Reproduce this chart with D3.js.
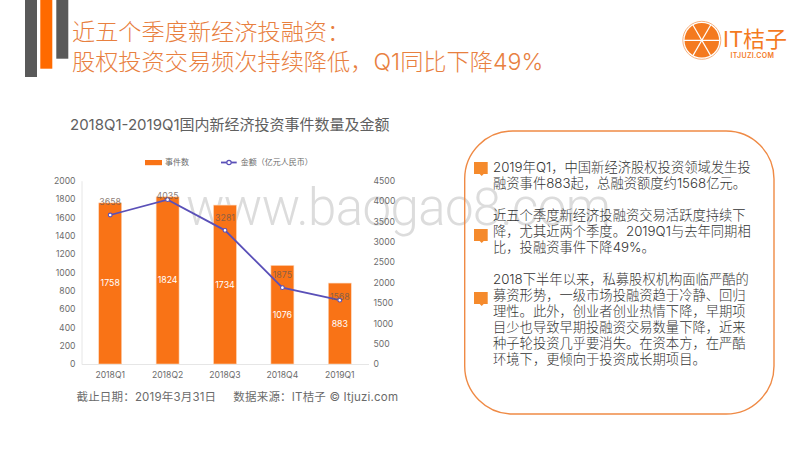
<!DOCTYPE html>
<html><head><meta charset="utf-8">
<script src="https://cdn.jsdelivr.net/npm/d3@7"></script>
<style>html,body{margin:0;padding:0;background:#fff}svg{display:block}</style></head><body>
<svg id="c" width="800" height="450" font-family="Inter,'Noto Sans CJK SC',sans-serif"></svg>
<script>
const categories=["2018Q1","2018Q2","2018Q3","2018Q4","2019Q1"];
const eventCounts=[1758,1824,1734,1076,883];
const amounts=[3658,4035,3281,1875,1568];
const leftTicks=[0,200,400,600,800,1000,1200,1400,1600,1800,2000];
const rightTicks=[0,500,1000,1500,2000,2500,3000,3500,4000,4500];
const closeLabels=["2018Q2","2019Q1"];
const titleLines=["近五个季度新经济投融资：","股权投资交易频次持续降低，Q1同比下降49%"];
const chartTitle="2018Q1-2019Q1国内新经济投资事件数量及金额";
const legendLabels=["事件数","金额（亿元人民币）"];
const footnote="截止日期：2019年3月31日     数据来源：IT桔子 © Itjuzi.com";
const paragraphs=[
 ["2019年Q1，中国新经济股权投资领域发生投","融资事件883起，总融资额度约1568亿元。"],
 ["近五个季度新经济投融资交易活跃度持续下","降，尤其近两个季度。2019Q1与去年同期相","比，投融资事件下降49%。"],
 ["2018下半年以来，私募股权机构面临严酷的","募资形势，一级市场投融资趋于冷静、回归","理性。此外，创业者创业热情下降，早期项","目少也导致早期投融资交易数量下降，近来","种子轮投资几乎要消失。在资本方，在严酷","环境下，更倾向于投资成长期项目。"]];
const ORANGE="#f97316",TXT="#6b6b6b",LINE="#5a50b8";
const svg=d3.select("#c");
// watermark under everything
svg.append("text").attr("x",186).attr("y",225).attr("font-size",51).attr("fill","#dcdcdc").attr("font-family","Roboto").attr("font-weight",300).attr("textLength",425).attr("lengthAdjust","spacing").text("www.baogao8.com");
// decoration bars
[[25,0,12,77,"#595959"],[40.3,0,12,68.7,"#ff6a00"],[56.3,0,12,58.7,"#595959"]].forEach(d=>
 svg.append("rect").attr("x",d[0]).attr("y",d[1]).attr("width",d[2]).attr("height",d[3]).attr("fill",d[4]));
// title
titleLines.forEach((t,i)=>svg.append("text").attr("x",72).attr("y",[40,70][i]).attr("font-size",23.2).attr("font-weight",300).attr("fill","#e8803f").text(t));
// logo
const lg=svg.append("g").attr("transform","translate(701.8,40.3)");
lg.append("circle").attr("r",19).attr("fill","#fff").attr("stroke","#f7b27f").attr("stroke-width",1);
lg.append("circle").attr("r",17.3).attr("fill","#f47a1f");
[0,60,120].forEach(deg=>{const a=deg*Math.PI/180;
 lg.append("line").attr("x1",-18*Math.cos(a)).attr("y1",-18*Math.sin(a)).attr("x2",18*Math.cos(a)).attr("y2",18*Math.sin(a)).attr("stroke","#fff").attr("stroke-width",1.2);});
svg.append("text").attr("x",723).attr("y",47).attr("font-size",22).attr("fill","#f47a1f").text("IT桔子");
svg.append("text").attr("x",730.5).attr("y",57.5).attr("font-size",7).attr("fill","#f47a1f").attr("font-weight",600).attr("textLength",43.5).text("ITJUZI.COM");
// chart title
svg.append("text").attr("x",70).attr("y",130).attr("font-size",15).attr("fill","#606060").text(chartTitle);
// scales
const x=d3.scaleBand().domain(categories).range([81.5,368.5]).paddingInner(0.6).paddingOuter(0.3);
const yL=d3.scaleLinear().domain([0,2000]).range([364,180.7]);
const yR=d3.scaleLinear().domain([0,4500]).range([364,180.7]);
// axes
const axL=svg.append("g").attr("transform","translate(81.5,0)").call(d3.axisLeft(yL).tickValues(leftTicks).tickFormat(d3.format("d")).tickSize(0).tickPadding(6));
const axR=svg.append("g").attr("transform","translate(368.5,0)").call(d3.axisRight(yR).tickValues(rightTicks).tickFormat(d3.format("d")).tickSize(0).tickPadding(5));
const axB=svg.append("g").attr("transform","translate(0,364)").call(d3.axisBottom(x).tickSize(0).tickPadding(8));
[axL,axB].forEach(a=>a.select(".domain").attr("stroke","#e6e6e6"));
axR.select(".domain").remove();
[axL,axR,axB].forEach(a=>a.attr("font-family",null).selectAll("text").attr("font-size",8.6).attr("fill",TXT));
// bars
svg.selectAll(".bar").data(eventCounts).enter().append("rect").attr("x",(d,i)=>x(categories[i])).attr("y",d=>yL(d)).attr("width",x.bandwidth()).attr("height",d=>yL(0)-yL(d)).attr("fill",ORANGE).attr("stroke","#fcd9bd").attr("stroke-width",.6);
// bar labels
svg.selectAll(".bl").data(eventCounts).enter().append("text").attr("x",(d,i)=>x(categories[i])+x.bandwidth()/2).attr("y",d=>(yL(d)+yL(0))/2+3).attr("text-anchor","middle").attr("font-size",8.8).attr("fill","#fff").text(d=>d);
// line
const cx=i=>x(categories[i])+x.bandwidth()/2;
const line=d3.line().x((d,i)=>cx(i)).y(d=>yR(d));
svg.append("path").datum(amounts).attr("d",line).attr("fill","none").attr("stroke",LINE).attr("stroke-width",1.8);
svg.selectAll(".pt").data(amounts).enter().append("circle").attr("cx",(d,i)=>cx(i)).attr("cy",d=>yR(d)).attr("r",1.9).attr("fill","#fff").attr("stroke",LINE).attr("stroke-width",1.1);
svg.selectAll(".al").data(amounts).enter().append("text").attr("x",(d,i)=>cx(i)).attr("y",(d,i)=>yR(d)-(closeLabels.includes(categories[i])?0.5:9.5)).attr("text-anchor","middle").attr("font-size",8.8).attr("fill","#6e5a50").attr("fill-opacity",.8).text(d=>d);
// legend
svg.append("rect").attr("x",145).attr("y",160).attr("width",17).attr("height",5.2).attr("fill",ORANGE);
svg.append("text").attr("x",165).attr("y",165.3).attr("font-size",8).attr("fill",TXT).text(legendLabels[0]);
svg.append("line").attr("x1",221).attr("x2",236.7).attr("y1",162.5).attr("y2",162.5).attr("stroke",LINE).attr("stroke-width",1.8);
svg.append("circle").attr("cx",229).attr("cy",162.5).attr("r",2.2).attr("fill","#fff").attr("stroke",LINE).attr("stroke-width",1.2);
svg.append("text").attr("x",240.7).attr("y",165.3).attr("font-size",8).attr("fill",TXT).text(legendLabels[1]);
// footnote
svg.append("text").attr("x",76.5).attr("y",401).attr("font-size",11.5).attr("fill",TXT).style("white-space","pre").attr("textLength",321.5).text(footnote);
// rounded box
svg.append("rect").attr("x",464.7).attr("y",131).attr("width",309.3).attr("height",283).attr("rx",48).attr("fill","none").attr("stroke","#ef8a45").attr("stroke-width",1.4);
// paragraphs
const starts=[172,220,284];
paragraphs.forEach((p,k)=>p.forEach((t,i)=>svg.append("text").attr("x",493).attr("y",starts[k]+i*16).attr("font-size",13.3).attr("font-weight",300).attr("fill","#333").text(t)));
[162,229,292].forEach(yy=>{
 svg.append("path").attr("d",`M474 ${yy}h13.7v12h-4l-2 2l-2-2h-5.7z`).attr("fill","#f58a2c");
});
</script></body></html>
